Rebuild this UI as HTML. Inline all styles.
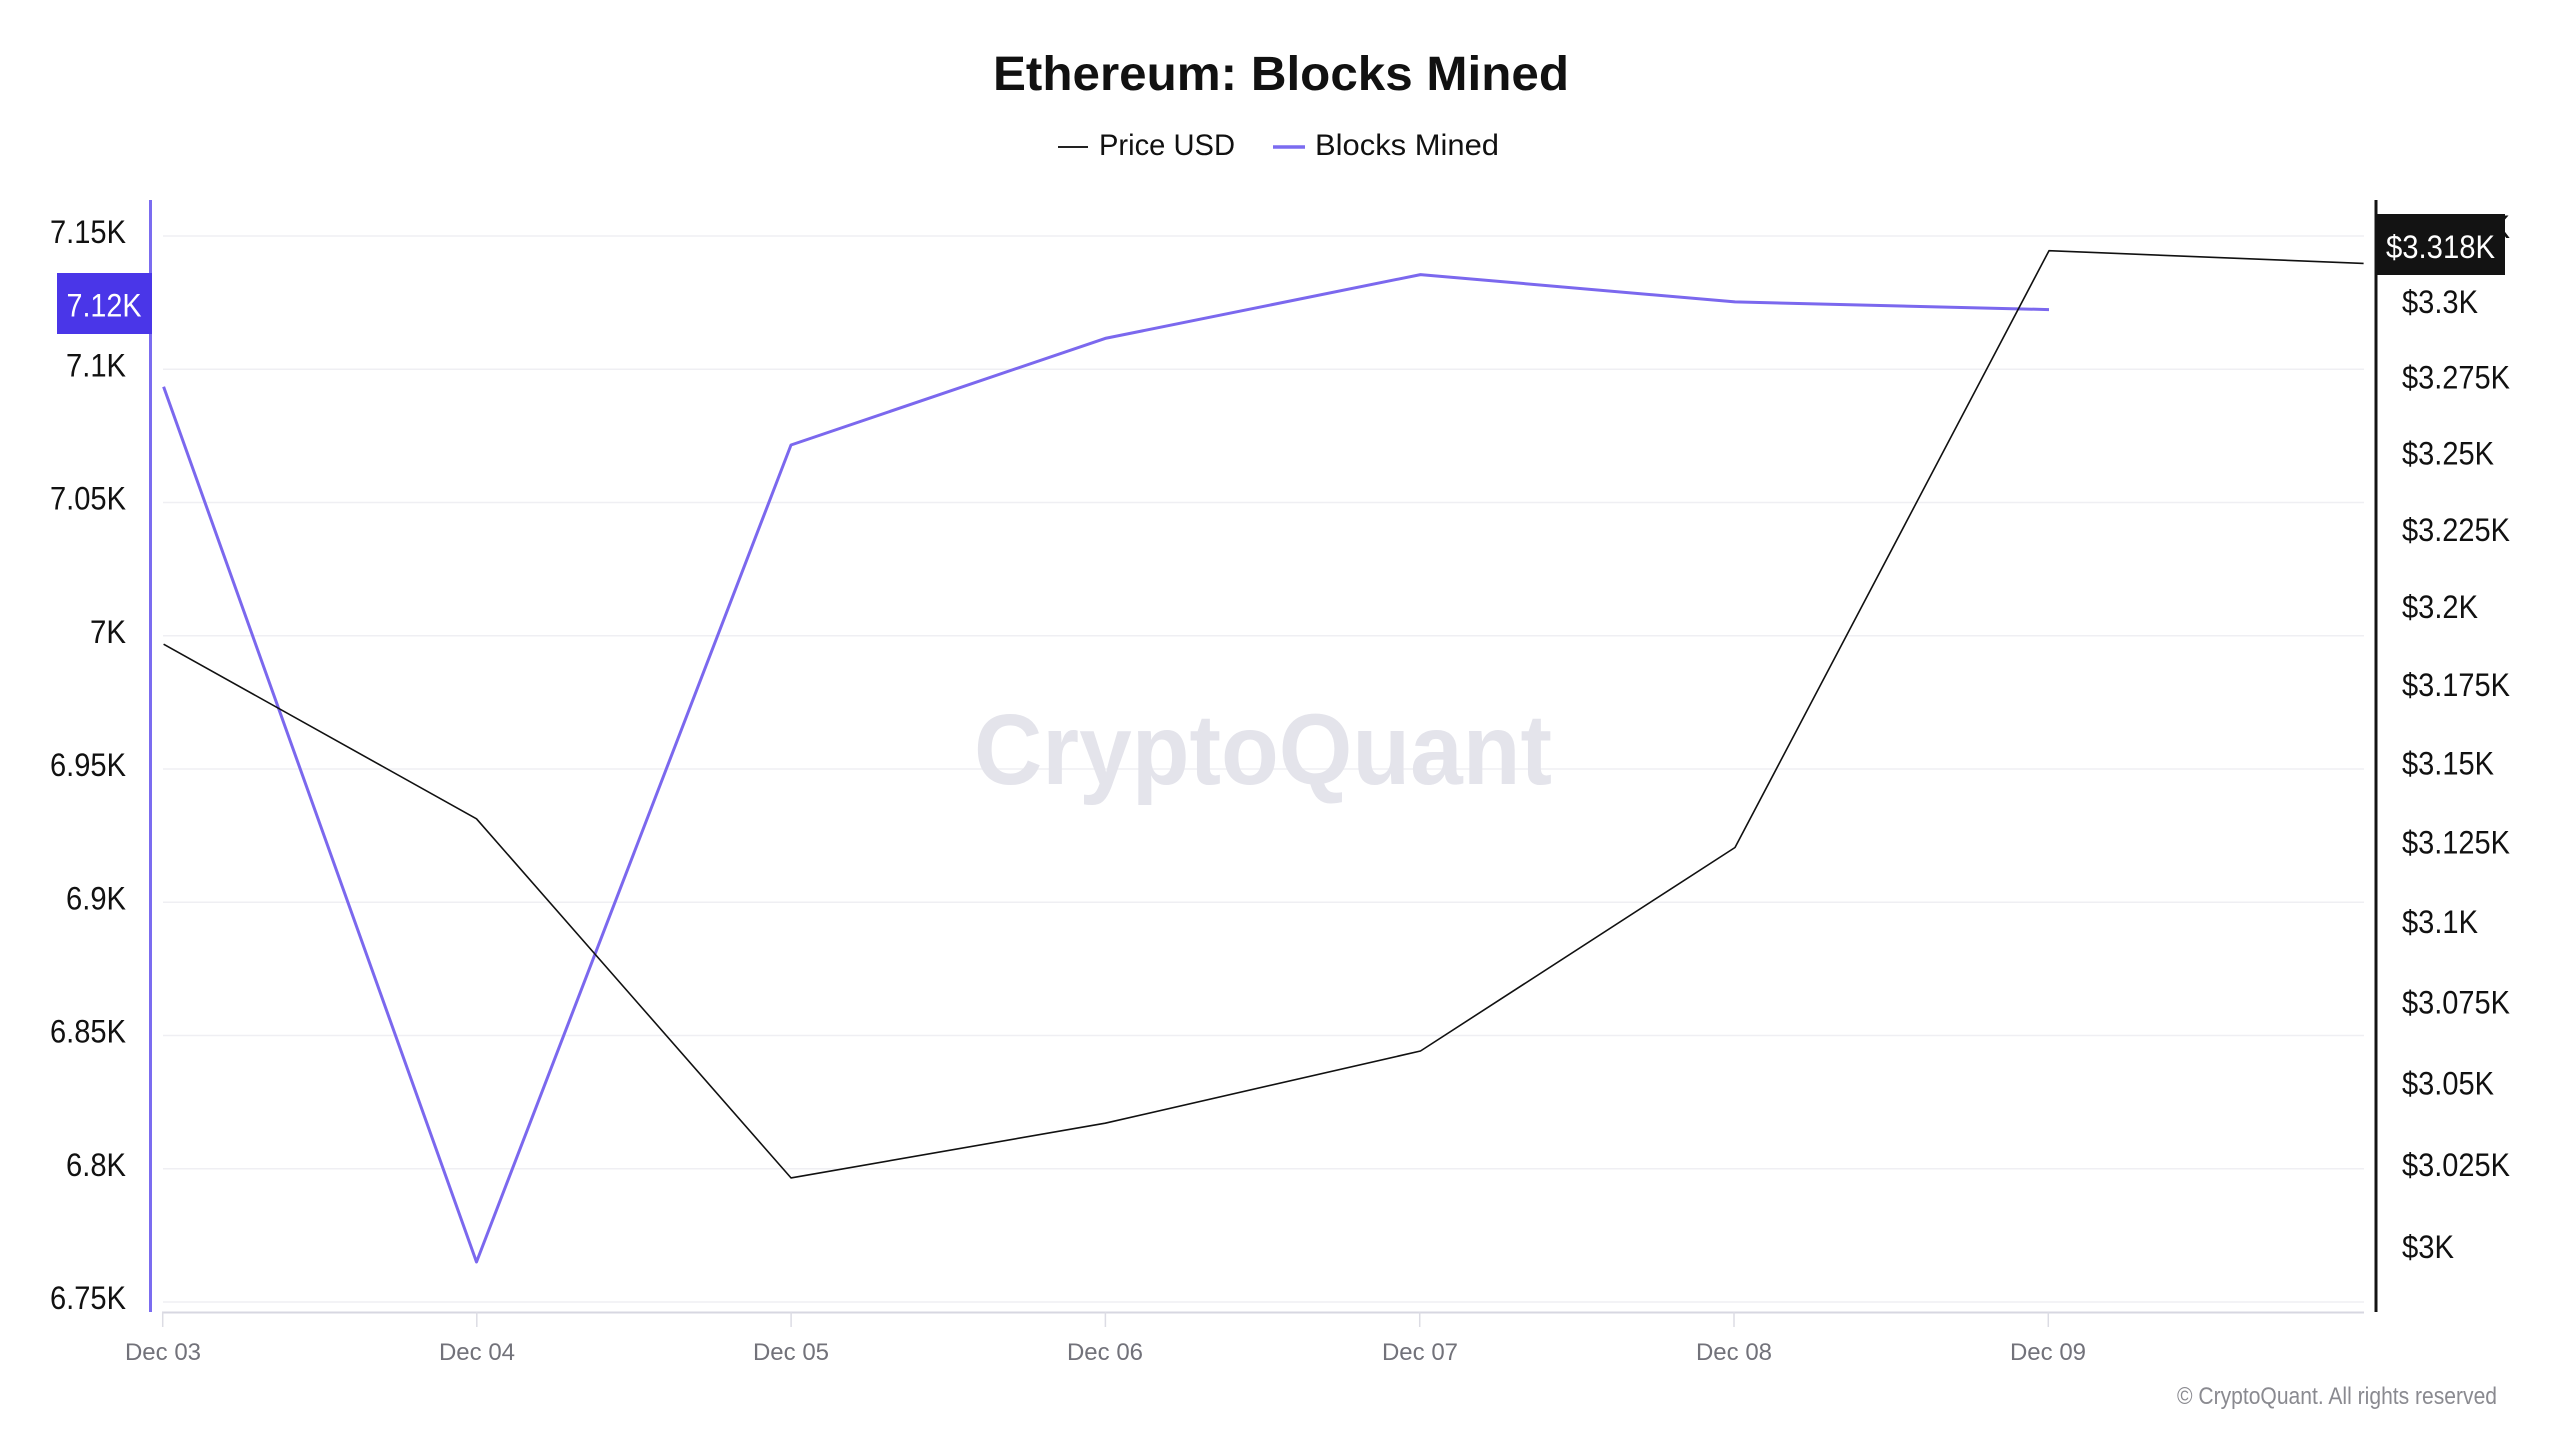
<!DOCTYPE html>
<html>
<head>
<meta charset="utf-8">
<style>
  html,body{margin:0;padding:0;background:#ffffff;}
  svg{display:block;}
  text{font-family:"Liberation Sans",Arial,sans-serif;}
</style>
</head>
<body>
<svg width="2560" height="1440" viewBox="0 0 2560 1440" xmlns="http://www.w3.org/2000/svg">
  <rect x="0" y="0" width="2560" height="1440" fill="#ffffff"/>

  <!-- Title -->
  <text x="993" y="90" font-size="48" font-weight="bold" fill="#111111" textLength="576" lengthAdjust="spacingAndGlyphs">Ethereum: Blocks Mined</text>

  <!-- Legend -->
  <line x1="1058" y1="147" x2="1088" y2="147" stroke="#222222" stroke-width="2"/>
  <text x="1099" y="155" font-size="30" fill="#111111" textLength="136" lengthAdjust="spacingAndGlyphs">Price USD</text>
  <line x1="1273" y1="147" x2="1305" y2="147" stroke="#7b6cf0" stroke-width="3.5"/>
  <text x="1315" y="155" font-size="30" fill="#111111" textLength="184" lengthAdjust="spacingAndGlyphs">Blocks Mined</text>

  <!-- Gridlines -->
  <g stroke="#efeff3" stroke-width="1.5">
    <line x1="163" y1="236" x2="2364" y2="236"/>
    <line x1="163" y1="369.25" x2="2364" y2="369.25"/>
    <line x1="163" y1="502.5" x2="2364" y2="502.5"/>
    <line x1="163" y1="635.75" x2="2364" y2="635.75"/>
    <line x1="163" y1="769" x2="2364" y2="769"/>
    <line x1="163" y1="902.25" x2="2364" y2="902.25"/>
    <line x1="163" y1="1035.5" x2="2364" y2="1035.5"/>
    <line x1="163" y1="1168.75" x2="2364" y2="1168.75"/>
    <line x1="163" y1="1302" x2="2364" y2="1302"/>
  </g>

  <!-- Watermark -->
  <text x="974" y="784" font-size="100" font-weight="bold" fill="#e4e4eb" textLength="578" lengthAdjust="spacingAndGlyphs">CryptoQuant</text>

  <!-- X axis -->
  <line x1="162" y1="1312.5" x2="2364" y2="1312.5" stroke="#d7d7e1" stroke-width="2"/>
  <g stroke="#dcdce4" stroke-width="1.5">
    <line x1="162.7" y1="1312" x2="162.7" y2="1327"/>
    <line x1="476.8" y1="1312" x2="476.8" y2="1327"/>
    <line x1="791.1" y1="1312" x2="791.1" y2="1327"/>
    <line x1="1105.4" y1="1312" x2="1105.4" y2="1327"/>
    <line x1="1419.7" y1="1312" x2="1419.7" y2="1327"/>
    <line x1="1734" y1="1312" x2="1734" y2="1327"/>
    <line x1="2048.3" y1="1312" x2="2048.3" y2="1327"/>
  </g>
  <g font-size="24" fill="#72727a" text-anchor="middle">
    <text x="163" y="1360">Dec 03</text>
    <text x="477" y="1360">Dec 04</text>
    <text x="791" y="1360">Dec 05</text>
    <text x="1105" y="1360">Dec 06</text>
    <text x="1420" y="1360">Dec 07</text>
    <text x="1734" y="1360">Dec 08</text>
    <text x="2048" y="1360">Dec 09</text>
  </g>

  <!-- Left axis -->
  <line x1="150.5" y1="200" x2="150.5" y2="1312" stroke="#7b6cf0" stroke-width="3"/>
  <g font-size="32" fill="#111111" text-anchor="end">
    <text x="126" y="243" textLength="76" lengthAdjust="spacingAndGlyphs">7.15K</text>
    <text x="126" y="376.25" textLength="60" lengthAdjust="spacingAndGlyphs">7.1K</text>
    <text x="126" y="509.5" textLength="76" lengthAdjust="spacingAndGlyphs">7.05K</text>
    <text x="126" y="642.75" textLength="36" lengthAdjust="spacingAndGlyphs">7K</text>
    <text x="126" y="776" textLength="76" lengthAdjust="spacingAndGlyphs">6.95K</text>
    <text x="126" y="909.25" textLength="60" lengthAdjust="spacingAndGlyphs">6.9K</text>
    <text x="126" y="1042.5" textLength="76" lengthAdjust="spacingAndGlyphs">6.85K</text>
    <text x="126" y="1175.75" textLength="60" lengthAdjust="spacingAndGlyphs">6.8K</text>
    <text x="126" y="1309" textLength="76" lengthAdjust="spacingAndGlyphs">6.75K</text>
  </g>
  <rect x="57" y="273" width="95" height="61" fill="#4a36e8"/>
  <text x="141.5" y="316.7" font-size="32" fill="#ffffff" text-anchor="end" textLength="75" lengthAdjust="spacingAndGlyphs">7.12K</text>

  <!-- Right axis -->
  <line x1="2376" y1="200" x2="2376" y2="1312" stroke="#141414" stroke-width="3"/>
  <g font-size="32" fill="#111111">
    <text x="2402" y="238.2" textLength="108" lengthAdjust="spacingAndGlyphs">$3.325K</text>
    <text x="2402" y="313" textLength="76" lengthAdjust="spacingAndGlyphs">$3.3K</text>
    <text x="2402" y="388.4" textLength="108" lengthAdjust="spacingAndGlyphs">$3.275K</text>
    <text x="2402" y="464.4" textLength="92" lengthAdjust="spacingAndGlyphs">$3.25K</text>
    <text x="2402" y="541" textLength="108" lengthAdjust="spacingAndGlyphs">$3.225K</text>
    <text x="2402" y="618.2" textLength="76" lengthAdjust="spacingAndGlyphs">$3.2K</text>
    <text x="2402" y="695.9" textLength="108" lengthAdjust="spacingAndGlyphs">$3.175K</text>
    <text x="2402" y="774.3" textLength="92" lengthAdjust="spacingAndGlyphs">$3.15K</text>
    <text x="2402" y="853.4" textLength="108" lengthAdjust="spacingAndGlyphs">$3.125K</text>
    <text x="2402" y="933" textLength="76" lengthAdjust="spacingAndGlyphs">$3.1K</text>
    <text x="2402" y="1013.3" textLength="108" lengthAdjust="spacingAndGlyphs">$3.075K</text>
    <text x="2402" y="1094.3" textLength="92" lengthAdjust="spacingAndGlyphs">$3.05K</text>
    <text x="2402" y="1175.9" textLength="108" lengthAdjust="spacingAndGlyphs">$3.025K</text>
    <text x="2402" y="1258.2" textLength="52" lengthAdjust="spacingAndGlyphs">$3K</text>
  </g>
  <rect x="2376" y="214" width="129" height="61" fill="#131313"/>
  <text x="2386" y="258" font-size="32" fill="#ffffff" textLength="109" lengthAdjust="spacingAndGlyphs">$3.318K</text>

  <!-- Series: Blocks Mined -->
  <polyline fill="none" stroke="#7b68ee" stroke-width="3" stroke-linejoin="round"
    points="163.6,386.8 476.5,1262 791,445 1105.2,338.4 1420.5,274.6 1735,301.9 2049,309.6"/>

  <!-- Series: Price USD -->
  <polyline fill="none" stroke="#111111" stroke-width="1.6" stroke-linejoin="round"
    points="163.6,644.2 476.5,818.8 791,1177.9 1105.2,1123.2 1420.5,1051 1735,847.5 2049,250.7 2363.6,263.4"/>

  <!-- Copyright -->
  <text x="2497" y="1404" font-size="24" fill="#8a8a90" text-anchor="end" textLength="320" lengthAdjust="spacingAndGlyphs">© CryptoQuant. All rights reserved</text>
</svg>
</body>
</html>
